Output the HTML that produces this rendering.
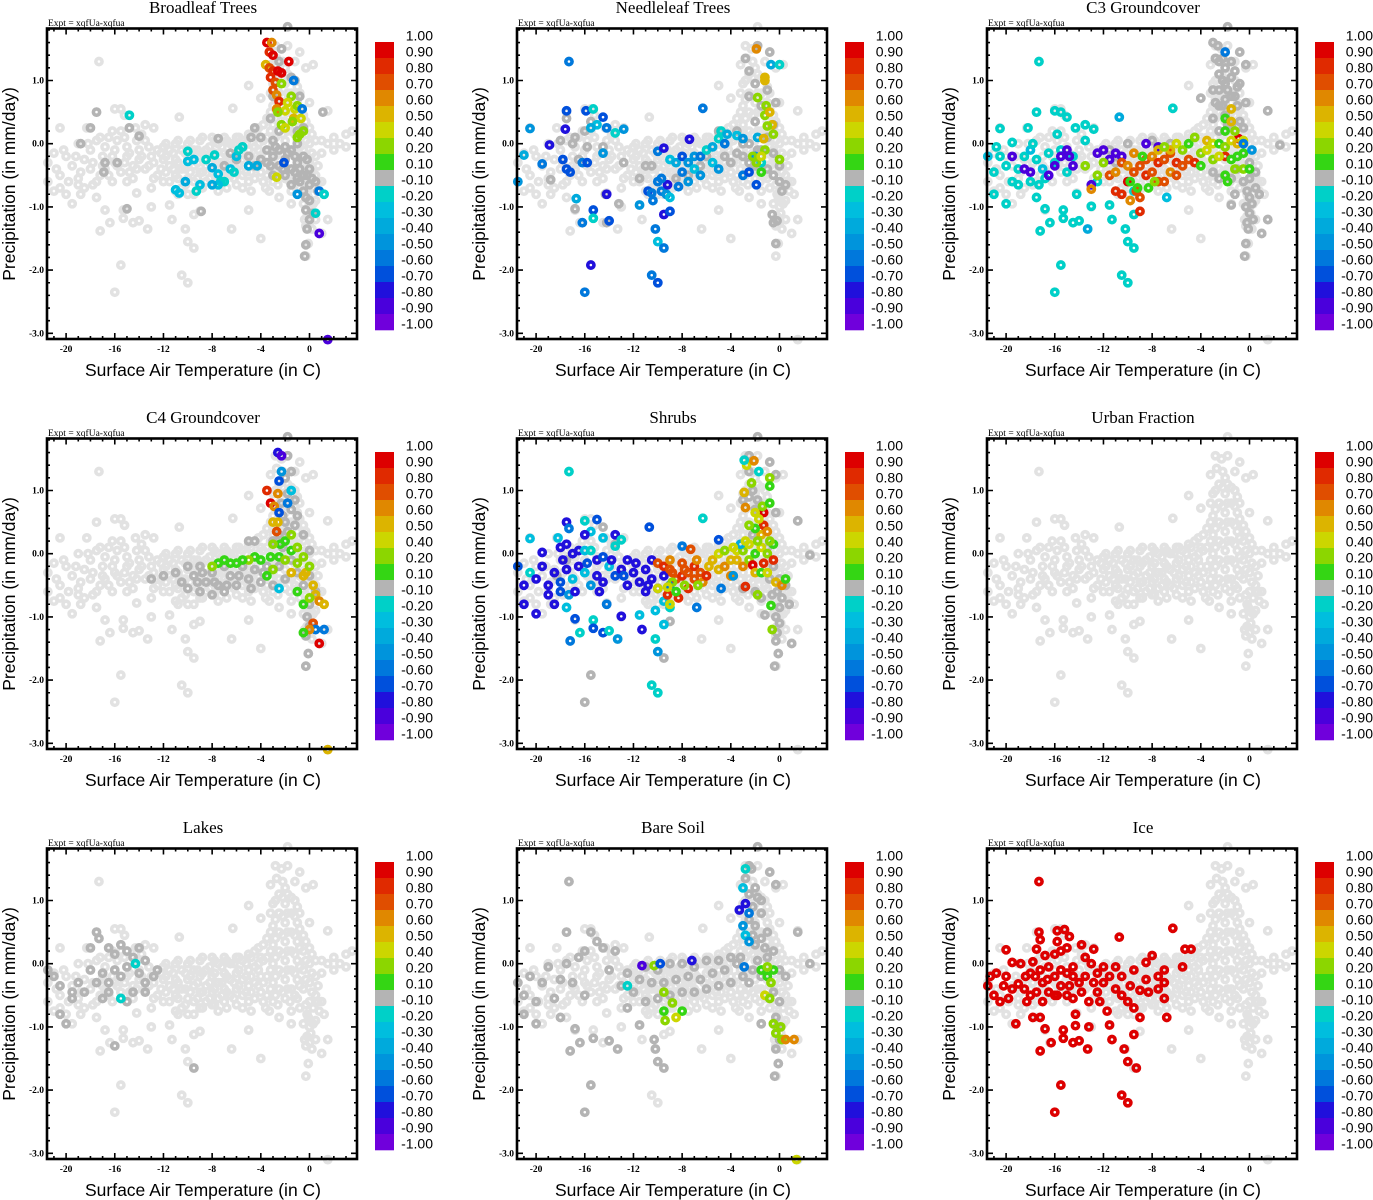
<!DOCTYPE html>
<html><head><meta charset="utf-8"><style>
html,body{margin:0;padding:0;background:#fff;}
svg{display:block;}
</style></head><body>
<svg id="fig" width="1373" height="1200" viewBox="0 0 1373 1200" xmlns="http://www.w3.org/2000/svg"></svg>
<script>
const panelTitles = ["Broadleaf Trees","Needleleaf Trees","C3 Groundcover","C4 Groundcover","Shrubs","Urban Fraction","Lakes","Bare Soil","Ice"];
const xTickValues = [-20,-16,-12,-8,-4,0];
const xTickLabels = ["-20","-16","-12","-8","-4","0"];
const yTickValues = [1,0,-1,-2,-3];
const yTickLabels = ["1.0","0.0","-1.0","-2.0","-3.0"];
const cbLevels = [1,0.9,0.8,0.7,0.6,0.5,0.4,0.2,0.1,-0.1,-0.2,-0.3,-0.4,-0.5,-0.6,-0.7,-0.8,-0.9,-1.0];
const cbLabels = ["1.00","0.90","0.80","0.70","0.60","0.50","0.40","0.20","0.10","-0.10","-0.20","-0.30","-0.40","-0.50","-0.60","-0.70","-0.80","-0.90","-1.00"];
const cbColors = ["#dd0000","#e02a00","#e04e00","#e08800","#dcb400","#ccd600","#8cd600","#34d614","#b4b4b4","#00d0c8","#00bede","#00aadc","#0094dc","#0078dc","#0050dc","#2010dc","#4a00dc","#7000dc"];

// shared background cloud [T, P]
const cloudPoints = [[-21.5,-0.3],[-21,-0.15],[-20.5,-0.5],[-20,-0.2],[-19.5,-0.35],[-19,0.0],[-19,-0.55],[-18.5,-0.25],[-18,-0.1],[-18,-0.4],[-17.5,0.05],[-17.5,-0.6],[-17,-0.2],[-17,-0.35],[-16.5,0.1],[-16.5,-0.5],[-16,-0.1],[-16,-0.3],[-15.5,0.2],[-15.5,-0.45],[-15,-0.2],[-15,-0.05],[-14.5,-0.35],[-14.5,-0.55],[-14,-0.1],[-14,-0.25],[-13.5,0.05],[-13.5,-0.4],[-13,-0.2],[-12.5,-0.1],[-12.5,-0.5],[-12,-0.25],[-12,-0.05],
[-20.5,0.25],[-19.5,-0.95],[-20,-0.8],[-17.3,1.3],[-17.5,0.5],[-16,0.55],[-15.5,0.55],[-15.2,0.45],[-14.3,0.25],[-13.5,0.3],[-12.8,0.25],[-18.3,0.25],[-17.5,-0.85],[-16.8,-1.05],[-16.4,-1.25],[-17.2,-1.38],[-15.3,-1.05],[-15.3,-1.18],[-14.5,-1.25],[-14,-1.22],[-13.3,-1.35],[-13,-1.0],[-11.5,-0.97],[-11.3,-1.2],[-10.2,-1.35],[-10,-1.55],[-9.5,-1.65],[-10.5,-2.08],[-10,-2.2],[-15.5,-1.92],[-16,-2.35],[-9,-1.07],[-9.5,-1.12],[-21.5,-0.6],[-21,-0.75],[-19,-0.65],[-18.5,-0.7],[-14.2,-0.78],[-13,-0.7],[-10.7,0.42],[-6.3,0.56],[-6.4,-1.35],[-4,-1.5],[-5,-1.05],[-5,0.92],[-4,0.72],
[-11.5,-0.1],[-11.5,-0.35],[-11.5,-0.6],[-11,0.0],[-11,-0.25],[-11,-0.5],[-11,-0.75],[-10.5,-0.1],[-10.5,-0.4],[-10.5,-0.7],[-10,0.0],[-10,-0.25],[-10,-0.55],[-10,-0.8],[-9.5,-0.1],[-9.5,-0.35],[-9.5,-0.6],[-9,0.05],[-9,-0.2],[-9,-0.45],[-9,-0.7],[-8.5,-0.1],[-8.5,-0.35],[-8.5,-0.6],[-8,0.1],[-8,-0.2],[-8,-0.45],[-8,-0.65],[-7.5,0.0],[-7.5,-0.3],[-7.5,-0.55],[-7,0.1],[-7,-0.15],[-7,-0.4],[-7,-0.6],[-6.5,0.0],[-6.5,-0.25],[-6.5,-0.5],[-6,0.1],[-6,-0.15],[-6,-0.4],[-6,-0.65],[-5.5,0.05],[-5.5,-0.25],[-5.5,-0.5],[-5,0.15],[-5,-0.1],[-5,-0.35],[-5,-0.6],[-4.5,0.2],[-4.5,-0.05],[-4.5,-0.3],[-4.5,-0.55],[-4,0.1],[-4,-0.2],[-4,-0.45],
[-3.5,-0.5],[-3.5,-0.2],[-3.5,0.1],[-3.5,0.4],[-3.2,0.8],[-3.2,1.25],[-3,-0.6],[-3,-0.3],[-3,0.0],[-3,0.3],[-3,0.6],[-3,0.95],[-2.8,1.55],[-2.7,1.35],[-2.5,-0.4],[-2.5,-0.1],[-2.5,0.2],[-2.5,0.5],[-2.5,0.8],[-2.5,1.1],[-2.3,1.5],[-2,-0.55],[-2,-0.25],[-2,0.05],[-2,0.35],[-2,0.65],[-2,0.95],[-2,1.2],[-1.8,1.55],[-1.5,-0.4],[-1.5,-0.1],[-1.5,0.2],[-1.5,0.5],[-1.5,0.8],[-1.5,1.05],[-1.2,1.3],[-1,-0.55],[-1,-0.25],[-1,0.05],[-1,0.35],[-1,0.65],[-1,0.9],[-0.8,1.45],[-0.5,-0.4],[-0.5,-0.1],[-0.5,0.2],[-0.5,0.45],[-0.3,1.2],[0,-0.6],[0,-0.3],[0,0.0],[0,0.25],[0,0.65],[0.3,1.25],[0.5,-0.5],[0.5,-0.2],[0.5,0.05],
[-0.2,-0.8],[0,-1.0],[-0.2,-1.15],[0,-1.25],[-0.3,-1.3],[0.2,-1.35],[-0.1,-1.58],[-0.3,-1.78],[0.5,-0.9],[0.8,-0.75],[1,-0.6],[1.2,-0.8],[1.5,-1.2],[1,-1.42],[0.5,-1.2],
[1,0.05],[1.5,0.0],[2,0.1],[2.5,0.0],[3,0.15],[3.5,0.2],[1.5,0.52],[2,-0.1],[3,-0.05],[1,-0.15],[-1.8,1.85],[-4.2,-0.35],[-3.8,-0.6],[-4.8,-0.75],[-3.3,-0.75],[-2.5,-0.85],[-1.5,-0.75],[-1.5,-0.95],[1.5,-3.1]];
// additional densely packed cloud points [T, P]
const cloudFill = [[-20.8,-0.4],[-20.2,-0.1],[-19.8,-0.6],[-19.2,-0.2],[-18.8,-0.45],[-18.2,0.0],[-17.8,-0.3],[-17.2,0.1],[-17.2,-0.5],[-16.8,-0.05],[-16.8,-0.4],[-16.2,0.2],[-16.2,-0.2],[-15.8,-0.35],[-15.8,0.05],[-15.2,-0.3],[-15.2,0.1],[-14.8,-0.15],[-14.8,-0.45],[-14.2,0.05],[-14.2,-0.4],[-13.8,-0.2],[-13.8,0.15],[-13.2,-0.05],[-13.2,-0.35],[-12.8,-0.3],[-12.2,-0.15],[-12.2,-0.4],[-11.8,0.0],[-11.8,-0.2],[-11.8,-0.45],[-11.2,-0.15],[-11.2,-0.4],[-10.8,0.05],[-10.8,-0.3],[-10.8,-0.55],[-10.2,-0.15],[-10.2,-0.4],[-10.2,-0.65],[-9.8,0.05],[-9.8,-0.2],[-9.8,-0.45],[-9.2,-0.1],[-9.2,-0.3],[-9.2,-0.55],[-8.8,0.1],[-8.8,-0.15],[-8.8,-0.45],[-8.8,-0.7],[-8.2,-0.05],[-8.2,-0.3],[-8.2,-0.55],[-7.8,0.05],[-7.8,-0.15],[-7.8,-0.4],[-7.8,-0.65],[-7.2,-0.05],[-7.2,-0.3],[-7.2,-0.5],[-6.8,0.05],[-6.8,-0.2],[-6.8,-0.45],[-6.2,0.0],[-6.2,-0.3],[-6.2,-0.55],[-5.8,0.1],[-5.8,-0.1],[-5.8,-0.35],[-5.2,0.0],[-5.2,-0.2],[-5.2,-0.45],[-4.8,0.1],[-4.8,-0.2],[-4.8,-0.45],[-4.2,0.0],[-4.2,0.25],[-4.2,-0.1],[-3.8,0.05],[-3.8,-0.3],[-3.8,0.3],[-3.2,-0.4],[-3.2,-0.1],[-3.2,0.2],[-3.2,0.5],[-2.8,-0.5],[-2.8,-0.2],[-2.8,0.1],[-2.8,0.4],[-2.8,0.7],[-2.8,1.0],[-2.2,-0.45],[-2.2,-0.15],[-2.2,0.15],[-2.2,0.45],[-2.2,0.75],[-2.2,1.05],[-2.2,1.3],[-1.8,-0.4],[-1.8,-0.1],[-1.8,0.2],[-1.8,0.5],[-1.8,0.8],[-1.8,1.1],[-1.2,-0.5],[-1.2,-0.15],[-1.2,0.15],[-1.2,0.45],[-1.2,0.75],[-1.2,1.0],[-0.8,-0.7],[-0.8,-0.35],[-0.8,-0.05],[-0.8,0.25],[-0.8,0.55],[-0.8,0.8],[-0.3,-0.65],[-0.3,-0.25],[-0.3,0.05],[-0.3,0.35],[0.2,-0.45],[0.2,-0.15],[0.2,0.15],[0.3,-0.7],[0.7,-0.35],[0.7,-0.6],[0.3,-0.95],[-0.5,-0.95],[-0.1,-0.85],[0.1,-1.1],[-0.4,-1.2],[-2.6,-0.65],[-1.6,-0.6],[-3.6,-0.7],[-5.5,-0.7],[-6.8,-0.7],[-7.5,-0.75],[-9.5,-0.8],[-10.8,-0.8],[-12,-0.6],[-12.8,-0.55],[-15,-0.6],[-16.2,-0.6],[-17.8,-0.65],[-18.8,-0.8],[-20.5,-0.7]];

// per-panel dark-gray points [T, P]
const grayBroadleaf = [[-17.5,0.5],[-18,0.25],[-14.8,0.25],[-14,0.12],[-18.8,0],[-16.8,-0.3],[-15.8,-0.3],[-16.9,-0.45],[-15,-1.03],[-8.9,-1.07],[-7.5,0.08],[-4.5,0.25],[-4,0.1],[-5,-0.2],[-4.5,-0.35],[-4,-0.25],[-3.5,-0.1],[-3.5,-0.3],[-3,-0.2],[-3,-0.5],[-3,0.05],[-2.5,-0.1],[-2.5,-0.35],[-2.5,0.2],[-2,-0.25],[-2,-0.5],[-2,-0.05],[-1.5,-0.1],[-1.5,-0.4],[-1.5,-0.65],[-1,-0.3],[-1,-0.55],[-1,0.0],[-0.5,-0.2],[-0.5,-0.5],[-0.5,-0.75],[0,-0.4],[0,-0.65],[0,-0.9],[-0.3,-1.05],[0,-1.2],[-0.2,-1.35],[-0.3,-1.6],[-0.4,-1.78],[0.5,-0.6],[0.7,-0.75],[0.3,-1.1],[1.1,0.5],[-2.5,1.3],[-2.3,1.5],[-1.8,1.85],[-1.2,1.0],[-1.5,1.05],[-0.8,0.75],[-3.2,0.4],[-3,0.75],[-4.8,0.1],[-5.5,-0.05],[-6,-0.25],[-7,-0.35],[-6.5,-0.15],[-0.5,0.25],[-1,0.2],[-3.2,-0.35],[-2.8,-0.05],[-2.2,-0.4],[-1.8,-0.15],[-1.2,-0.2],[-0.8,-0.4],[-0.2,-0.5],[-0.2,-0.25],[0.2,-0.55],[-1.2,-0.45],[-0.8,-0.6],[-0.3,-0.85]];
const grayNeedleleaf = [[-17.5,0.4],[-16.8,0.1],[-17,0.0],[-18,0.05],[-15.5,0.35],[-16,0.2],[-15.8,-0.05],[-16.5,-0.25],[-14.5,-0.05],[-14.3,-0.8],[-13.2,-0.95],[-14.2,-1.25],[-16.8,-1.03],[-18.8,-0.57],[-12.8,-0.3],[-11.5,-0.55],[-11,-0.35],[-10.5,-0.35],[-8.5,-0.55],[-7.5,-0.5],[-6.5,-0.35],[-6,-0.2],[-5,0.2],[-4.5,-0.2],[-4,-0.3],[-3.5,-0.15],[-3,-0.2],[-3,0.0],[-2.5,-0.3],[-2.5,0.0],[-2.5,0.75],[-2.8,1.35],[-2.5,1.15],[-1.8,1.55],[-0.8,1.45],[-2,0.95],[-1.5,0.6],[-2,0.35],[-1,0.85],[-0.3,0.65],[-0.5,0.3],[-1,0.1],[-1.5,-0.1],[-0.5,-0.15],[0,-0.35],[0,-0.6],[-0.5,-0.5],[0.5,-0.65],[0.2,-0.75],[-0.6,-1.12],[-0.5,-1.25],[-0.2,-1.22],[-0.3,-1.58],[-2,-0.35],[-1,-0.4],[-1.8,-0.1],[-3.5,0.2]];
const grayC3 = [[-3,1.6],[-2.6,1.55],[-2.5,1.3],[-2.8,1.35],[-2,1.2],[-1.5,1.3],[-0.8,1.45],[-0.3,1.25],[-2.5,1.1],[-2.5,0.85],[-3,0.85],[-2,0.95],[-1.5,1.05],[-1,0.9],[-4,0.72],[-2.5,0.6],[-2,0.7],[-1.5,0.75],[-2,0.45],[-1,0.6],[-0.3,0.65],[-1.5,0.3],[-0.5,0.25],[-3,0.4],[-2.5,0.2],[-1.8,1.85],[1.5,0.52],[2.5,-0.02],[0,-0.3],[0,-0.55],[-0.5,-0.6],[0.5,-0.7],[0,-0.85],[-0.3,-1.0],[0,-1.1],[-0.2,-1.25],[0.3,-1.2],[-0.1,-1.35],[-0.3,-1.58],[-0.4,-1.78],[0.8,-0.8],[1.5,-1.2],[1,-1.42],[0.5,-0.45],[-1.2,-0.8],[-1.5,-0.55],[-1,-0.4],[-2,-0.5],[-2.5,-0.55],[-3,-0.45],[-6.5,0.0],[-8,0.05],[-10,0.0],[-11.5,-0.1],[-11,-0.3],[-1.5,-0.97],[-2.2,1.0],[-1.8,0.85],[-2.2,0.6],[-1.2,0.75],[-0.8,0.95],[-2.8,0.65],[-1.8,0.3],[-0.8,0.35],[-2.2,1.35],[-1.2,1.15],[-0.2,-0.75],[0.2,-0.95]];
const grayC4 = [[-11,-0.3],[-10.5,-0.45],[-10,-0.2],[-10,-0.55],[-9.5,-0.35],[-9,-0.6],[-9,-0.2],[-8.5,-0.45],[-8,-0.3],[-8,-0.65],[-7.5,-0.5],[-7,-0.2],[-7,-0.6],[-6.5,-0.35],[-6,-0.5],[-5.5,-0.2],[-5,-0.4],[-4.5,-0.25],[-4,-0.45],[-3.5,-0.2],[-5,0.2],[-4.5,0.2],[-3,-0.5],[-2.5,-0.2],[-2,-0.4],[-1.5,-0.1],[-1,-0.3],[-0.5,-0.5],[0,-0.35],[-2.5,0.3],[-2,0.5],[-2.3,0.8],[-1.8,0.95],[-1.5,0.7],[-2,1.2],[-1.5,1.3],[-1.8,1.55],[-1.8,1.85],[-1,0.6],[-0.5,0.3],[0,0.05],[-3,0.2],[0.5,-0.6],[0,-0.8],[-0.2,-1.0],[0,-1.15],[-0.3,-1.3],[-0.1,-1.58],[-0.3,-1.78],[-13,-0.4],[-12,-0.35],[-9.2,-0.45],[-8.8,-0.3],[-7.8,-0.45],[-6.8,-0.5],[-5.8,-0.35],[-4.8,-0.55],[-3.8,-0.3],[-2.2,0.1],[-2.2,0.6],[-1.8,0.35],[-1.2,0.45],[-1.2,0.85]];
const grayShrubs = [[-15.5,-1.92],[-16,-2.35],[-9.5,-1.65],[-9,-1.07],[-14.2,-0.8],[-18.3,-0.35],[-17.5,-0.1],[-16,-0.3],[-14.5,0.42],[-13.5,0.15],[-2.5,1.55],[-2.5,1.3],[-1.8,1.85],[-3,0.85],[-2.5,0.9],[-2,0.7],[-0.8,1.45],[-0.3,1.25],[-0.3,0.65],[1.5,0.52],[2.5,-0.02],[-1,0.1],[-0.5,-0.2],[0,-0.4],[0.5,-0.5],[0.8,-0.8],[0,-0.85],[-0.3,-1.0],[0,-1.1],[-0.2,-1.25],[-0.3,-1.38],[-0.1,-1.58],[-0.4,-1.78],[1,-1.42],[-2,-0.6],[-1.5,-0.7],[-1.2,-0.97],[-3,-0.55],[-0.8,-0.4],[-2.2,1.0],[-1.8,0.85],[-2.2,0.3],[-0.2,-0.6],[0.2,-0.7],[-0.6,-0.65]];
const grayUrban = [];
const grayLakes = [[-17.5,0.5],[-17.3,0.4],[-18,0.25],[-16.5,0.25],[-16,0.15],[-15.5,0.3],[-15,0.2],[-14.5,0.1],[-14,0.25],[-13.5,0.05],[-12.8,-0.2],[-13.5,-0.3],[-14,-0.15],[-15,-0.05],[-15.5,-0.2],[-16,-0.1],[-16.5,-0.3],[-17,-0.15],[-17.5,-0.3],[-18,-0.1],[-18.5,-0.45],[-19,-0.3],[-19.5,-0.45],[-20.5,-0.35],[-21,-0.2],[-21.5,-0.1],[-20.5,-0.8],[-20,-0.95],[-19.5,-0.55],[-15.5,-0.55],[-14.5,-0.45],[-17,-0.55],[-15,-0.6],[-16,-1.3],[-12.5,-0.1],[-13.5,-0.45],[-16.5,-0.45],[-9.5,-1.65]];
const grayBareSoil = [[-21.5,-0.3],[-21,-0.5],[-20.5,-0.2],[-20,-0.6],[-19.5,-0.3],[-19,-0.05],[-18.5,-0.55],[-18,-0.25],[-17.5,0.0],[-17.3,1.3],[-17.5,0.5],[-17,-0.3],[-16.5,0.1],[-16,0.2],[-16,-0.5],[-15.5,0.5],[-15,0.35],[-14.5,0.25],[-14,-0.1],[-13.5,0.2],[-13,-0.35],[-12.5,-0.15],[-12,-0.45],[-11.5,-0.25],[-11,-0.05],[-11,-0.6],[-10.5,-0.3],[-10,-0.1],[-10,-0.55],[-9.5,-0.3],[-9,-0.5],[-9,0.0],[-8.5,-0.25],[-8,0.0],[-8,-0.45],[-7.5,-0.2],[-7,-0.05],[-7,-0.45],[-6.5,-0.25],[-6,0.05],[-6,-0.4],[-5.5,-0.15],[-5,0.05],[-5,-0.35],[-4.5,-0.1],[-4,0.1],[-4,-0.3],[-3.5,0.0],[-3,-0.2],[-2.5,1.55],[-2.8,1.35],[-2.3,1.5],[-1.8,1.85],[-2,1.2],[-2.5,1.1],[-2.2,0.9],[-2.5,0.7],[-2,0.6],[-1.5,0.8],[-1.5,0.4],[-2,0.3],[-1,0.5],[-0.8,1.45],[-0.3,1.25],[-1.5,1.0],[-1,0.1],[-0.5,0.2],[0,-0.1],[0.5,-0.2],[1.5,0.5],[2.5,0.0],[-2.5,-0.3],[-1.5,-0.2],[-0.5,-0.45],[0,-0.6],[-0.3,-0.85],[-0.2,-1.0],[0,-1.2],[-0.3,-1.35],[-0.1,-1.58],[-0.4,-1.78],[-16.4,-1.25],[-17.2,-1.38],[-16.8,-1.03],[-15.3,-1.18],[-14,-1.22],[-13.3,-1.35],[-11.5,-0.97],[-10.2,-1.35],[-10,-1.55],[-9.5,-1.65],[-15.5,-1.92],[-16,-2.35],[-10.3,-1.2],[-12.5,-0.7],[-18,-0.85],[-21,-0.8],[-20,-0.95],[-1.5,-0.95],[-1.8,1.05],[-2.2,0.45],[-1.2,0.25],[-1.8,0.05],[-2.2,-0.1],[-3.2,0.1]];
const grayIce = [];

// per-panel coloured points [T, P, value]
const colBroadleaf = [[-3.5,1.6,0.9],[-3.1,1.6,0.6],[-3.3,1.45,0.8],[-3,1.4,0.9],[-3.6,1.25,0.5],[-3.3,1.2,0.7],[-3,1.15,0.8],[-2.6,1.15,0.9],[-2.3,1.12,0.9],[-1.7,1.3,0.9],[-3.2,1.05,0.8],[-2.8,0.97,0.7],[-3,0.85,0.7],[-2.7,0.77,0.6],[-2.5,0.67,0.8],[-2.7,0.55,0.6],[-2.3,0.95,0.2],[-1.5,0.75,0.2],[-1.8,0.65,0.4],[-2,0.52,0.4],[-1.2,0.55,0.4],[-1,0.6,0.3],[-2.6,0.5,0.2],[-1.3,0.4,0.5],[-0.7,0.4,0.4],[-2.3,0.3,0.3],[-2,0.25,0.4],[-1.4,0.35,0.2],[-0.5,0.2,0.2],[-1,0.1,0.3],[-2.7,-0.53,0.4],[-10,-0.12,-0.2],[-10,-0.28,-0.3],[-9.5,-0.25,-0.3],[-8.5,-0.25,-0.2],[-8,-0.38,-0.4],[-7.5,-0.48,-0.3],[-7.3,-0.6,-0.2],[-7,-0.6,-0.2],[-7.5,-0.65,-0.3],[-8,-0.65,-0.4],[-9,-0.65,-0.3],[-9.3,-0.75,-0.2],[-10.2,-0.6,-0.4],[-10.7,-0.78,-0.3],[-11,-0.73,-0.3],[-6.5,-0.4,-0.3],[-6,-0.2,-0.3],[-5.8,-0.1,-0.2],[-5.5,-0.05,-0.2],[-6.2,-0.45,-0.2],[-7.8,-0.18,-0.2],[-14.8,0.45,-0.2],[-5,-0.35,-0.4],[-4.3,-0.35,-0.4],[-1.3,1.0,-0.6],[-2.1,-0.3,-0.7],[-1,-0.8,-0.5],[0.8,-0.75,-0.6],[1.2,-0.8,-0.2],[0.5,-1.1,-0.2],[0.8,-1.42,-0.9],[1.5,-3.1,-0.9],[-0.8,0.15,0.2],[-0.6,0.55,-0.6]];
const colNeedleleaf = [[-17.3,1.3,-0.6],[-17.5,0.52,-0.7],[-15.9,0.52,-0.7],[-15.3,0.55,-0.2],[-15,0.3,-0.3],[-14.5,0.42,-0.7],[-14.2,0.25,-0.6],[-12.8,0.23,-0.5],[-13.5,0.17,-0.2],[-15.5,0.25,-0.4],[-17.6,0.23,-0.8],[-18.9,-0.02,-0.8],[-20.5,0.24,-0.5],[-21,-0.18,-0.4],[-19.5,-0.32,-0.6],[-17.8,-0.25,-0.7],[-17.5,-0.4,-0.7],[-17.2,-0.45,-0.7],[-16.2,-0.3,-0.6],[-15.8,-0.3,-0.7],[-14.5,-0.15,-0.5],[-21.5,-0.6,-0.5],[-16.7,-0.87,-0.4],[-14.2,-0.8,-0.8],[-15.3,-1.05,-0.7],[-15.3,-1.18,-0.2],[-16.2,-1.25,-0.6],[-14,-1.22,-0.7],[-15.5,-1.92,-0.8],[-16,-2.35,-0.6],[-11.5,-0.97,-0.5],[-10.5,-2.08,-0.6],[-10,-2.2,-0.7],[-10.2,-1.35,-0.6],[-10,-1.55,-0.3],[-9.5,-1.65,-0.6],[-9.5,-1.12,-0.8],[-9,-1.07,-0.7],[-10.4,-0.9,-0.6],[-10.8,-0.75,-0.7],[-10.5,-0.78,-0.6],[-9.7,-0.75,-0.6],[-9.3,-0.8,-0.5],[-9,-0.85,-0.3],[-9.2,-0.65,-0.8],[-10,-0.6,-0.6],[-9.7,-0.55,-0.6],[-10,-0.12,-0.6],[-9.5,-0.07,-0.8],[-9,-0.25,-0.3],[-8.5,-0.3,-0.4],[-8,-0.2,-0.7],[-7.5,-0.3,-0.5],[-7.4,0.07,-0.8],[-7,-0.2,-0.5],[-8,-0.45,-0.6],[-8.3,-0.68,-0.6],[-7.5,-0.6,-0.5],[-7,-0.4,-0.3],[-6.5,-0.5,-0.5],[-6.5,-0.2,-0.6],[-6,-0.1,-0.2],[-5.5,-0.05,-0.4],[-5,0.08,-0.2],[-4.5,0.0,-0.6],[-4.8,0.2,-0.2],[-4.3,0.15,-0.4],[-5.5,-0.3,-0.3],[-5,-0.4,-0.5],[-3.5,0.13,-0.3],[-3,0.08,-0.5],[-3,-0.5,-0.6],[-2.5,-0.45,-0.7],[-2,-0.2,-0.5],[-1.8,0.1,-0.4],[-1.5,-0.3,-0.2],[-6.3,0.56,-0.6],[-1.9,1.5,0.6],[-0.7,1.25,-0.4],[0,1.25,-0.2],[-1.2,1.05,0.5],[-1.2,1.0,0.5],[-1.8,0.73,0.3],[-1.1,0.6,0.3],[-1.2,0.45,0.2],[-0.8,0.5,0.5],[-0.6,0.3,0.5],[-1,0.28,0.3],[-0.5,0.15,0.3],[-1.3,0.08,0.5],[-1.2,-0.1,0.3],[-2.2,-0.2,0.2],[-1.9,-0.3,0.3],[-1.5,-0.2,0.4],[0,-0.25,0.3],[-1.5,-0.45,0.1],[-1.9,-0.65,-0.7]];
const colC3 = [[-17.3,1.3,-0.2],[-17.5,0.5,-0.2],[-16,0.52,-0.2],[-15.5,0.5,-0.2],[-15,0.42,-0.2],[-14.3,0.25,-0.2],[-13.5,0.3,-0.2],[-12.8,0.23,-0.2],[-13.5,0.05,-0.2],[-18.2,0.25,-0.2],[-20.5,0.24,-0.2],[-19.5,0.02,-0.2],[-21.5,-0.2,-0.3],[-21,-0.45,-0.2],[-20.5,-0.2,-0.2],[-20,-0.35,-0.2],[-19,-0.4,-0.2],[-18.5,-0.2,-0.2],[-18,-0.1,-0.3],[-17.5,-0.25,-0.2],[-17,-0.4,-0.3],[-16.5,-0.15,-0.2],[-16,-0.3,-0.2],[-15.5,-0.1,-0.2],[-15,-0.45,-0.2],[-14.5,-0.2,-0.2],[-18,-0.6,-0.2],[-17.3,-0.65,-0.2],[-21,-0.8,-0.2],[-20,-0.95,-0.2],[-19,-0.65,-0.2],[-17.5,-0.85,-0.2],[-17.2,-1.38,-0.2],[-16.8,-1.03,-0.2],[-16.4,-1.25,-0.2],[-15.3,-1.05,-0.2],[-15.3,-1.18,-0.2],[-14.5,-1.25,-0.2],[-14,-1.22,-0.2],[-13.3,-1.35,-0.4],[-14.2,-0.8,-0.2],[-13,-0.99,-0.2],[-11.5,-0.97,-0.2],[-11.3,-1.2,-0.2],[-10.2,-1.35,-0.2],[-10,-1.55,-0.2],[-9.5,-1.65,-0.2],[-10.5,-2.08,-0.2],[-10,-2.2,-0.2],[-15.5,-1.92,-0.2],[-16,-2.35,-0.2],[-9.5,-1.12,-0.2],[-10.7,0.42,-0.4],[-6.3,0.56,-0.2],[-6.8,-0.85,-0.3],[-12.5,-0.6,-0.2],[-9.5,-0.75,-0.2],[-17.8,0.0,-0.2],[-16.8,-0.55,-0.2],[-15.8,0.15,-0.2],[-19.5,-0.6,-0.2],[-20.8,-0.05,-0.2],
[-19.5,-0.2,-0.9],[-18.5,-0.4,-0.9],[-18,-0.45,-0.9],[-16.5,-0.5,-0.9],[-16,-0.35,-0.9],[-15.5,-0.2,-0.9],[-15,-0.1,-0.9],[-14.5,-0.35,-0.9],[-14.8,-0.2,-0.9],[-12.5,-0.15,-0.9],[-12,-0.1,-0.9],[-11.5,-0.25,-0.9],[-11,-0.15,-0.9],[-10.5,-0.2,-0.9],[-8.5,0.0,-0.9],[-7.5,-0.05,-0.9],[-13,-0.65,-0.9],
[-11.5,-0.5,0.7],[-11,-0.45,0.6],[-11,-0.75,0.8],[-10.5,-0.8,0.8],[-10.5,-0.3,0.7],[-10,-0.35,0.6],[-10,-0.6,0.9],[-9.8,-0.9,0.6],[-9.5,-0.45,0.7],[-9.3,-0.75,0.7],[-9,-0.85,0.7],[-9,-1.07,0.8],[-9,-0.35,0.7],[-8.5,-0.5,0.8],[-8.5,-0.25,0.7],[-8,-0.45,0.7],[-8,-0.2,0.6],[-7.5,-0.6,0.7],[-7.5,-0.3,0.8],[-7,-0.6,0.7],[-7,-0.25,0.7],[-6.5,-0.45,0.6],[-6.5,-0.15,0.7],[-6,-0.3,0.8],[-6,-0.5,0.7],[-5.5,-0.35,0.7],[-5,-0.25,0.7],[-4.5,-0.3,0.8],[-13,-0.72,0.6],[-2,-0.2,0.8],[-0.9,0.08,0.9],[-9.5,-0.15,0.6],[-7.5,-0.1,0.5],[-6.5,-0.1,0.5],
[-12,-0.3,0.2],[-12.5,-0.5,0.3],[-13.5,-0.35,0.3],[-9.8,-0.6,0.1],[-9.2,-0.7,0.1],[-8.3,-0.7,0.1],[-7.8,-0.6,0.3],[-8.8,-0.2,0.1],[-7,-0.05,0.2],[-6,0.0,0.4],[-5.5,-0.1,0.3],[-5,0.0,0.1],[-4.5,0.1,0.3],[-4,-0.15,0.2],[-4,-0.35,0.1],[-3.5,-0.1,0.4],[-3.5,0.05,0.5],[-3,0.0,0.4],[-3,-0.25,0.2],[-2.5,0.0,0.1],[-2.5,-0.2,0.4],[-2,0.2,0.1],[-2,-0.05,0.3],[-1.5,0.05,0.4],[-1.5,-0.25,0.1],[-1.2,-0.4,0.2],[-1,0.0,0.5],[-1,-0.2,0.1],[-0.5,-0.15,0.1],[-0.5,-0.4,0.2],[0,-0.4,0.1],[-2,-0.5,0.1],[-1.8,-0.6,0.1],[-2,0.4,0.1],[-1.5,0.35,0.5],[-1.5,0.55,0.5],[-1.2,0.2,0.2],[-0.5,0.05,0.4],[-2,1.45,-0.6],[-0.5,0.0,-0.6],[0.2,-0.1,-0.5]];
const colC4 = [[-2.6,1.6,-0.8],[-2.3,1.55,-0.9],[-2.3,1.3,-0.5],[-2.5,1.15,-0.7],[-2.6,0.95,0.6],[-3.5,1.0,0.8],[-3.2,0.8,0.9],[-2.9,0.75,0.6],[-2.5,0.65,-0.7],[-2.6,0.5,0.5],[-3,0.5,0.5],[-2.7,0.35,0.7],[-1.8,0.8,-0.6],[-1.5,1.0,-0.3],[-2.4,0.15,0.1],[-3,0.15,0.2],[-2,0.2,0.1],[-1.5,0.3,0.2],[-3.2,-0.05,0.1],[-3,-0.25,0.2],[-2.5,-0.05,0.1],[-2,-0.1,0.2],[-1.5,0.05,0.1],[-1,0.1,0.2],[-1,-0.15,0.3],[-0.5,-0.05,0.2],[-0.3,-0.3,0.5],[0,-0.2,0.3],[-1.5,-0.3,0.5],[-4,-0.1,0.1],[-4.5,-0.05,0.1],[-5,-0.1,0.2],[-5.5,-0.1,0.1],[-6,-0.15,0.1],[-6.5,-0.15,0.1],[-7,-0.1,0.1],[-7.5,-0.15,0.1],[-8,-0.2,0.2],[-3.5,-0.35,0.1],[-0.5,-0.35,0.5],[0.3,-0.5,0.5],[0.5,-0.65,0.5],[0.8,-0.75,0.6],[1.2,-0.8,0.5],[-0.5,-0.8,0.1],[0,-0.7,0.3],[0.3,-1.1,0.7],[0.5,-1.2,-0.6],[0.8,-1.42,0.9],[1.2,-1.2,-0.6],[0,-1.2,0.6],[-0.5,-1.25,0.1],[1.5,-3.1,0.5],[-1,-0.6,0.1],[-2.5,-0.55,-0.3]];
const colShrubs = [[-17.3,1.3,-0.2],[-17.5,0.5,-0.8],[-17.3,0.4,-0.6],[-16,0.52,-0.2],[-15,0.54,-0.7],[-15.5,0.35,-0.3],[-16,0.3,-0.8],[-14.5,0.25,-0.3],[-13.5,0.3,-0.8],[-13,0.22,-0.2],[-13.5,0.12,-0.2],[-18.2,0.25,-0.3],[-20.5,0.24,-0.3],[-19.5,0.02,-0.8],[-18,0.1,-0.8],[-17.5,0.15,-0.8],[-17,0.0,-0.8],[-16.5,0.05,-0.8],[-16,0.05,-0.3],[-15.5,0.05,-0.2],[-15,-0.1,-0.8],[-14.5,-0.05,-0.7],[-21.5,-0.2,-0.7],[-21,-0.5,-0.8],[-20.5,-0.3,-0.2],[-20,-0.4,-0.8],[-19.5,-0.2,-0.8],[-19,-0.5,-0.8],[-18.5,-0.3,-0.8],[-18,-0.45,-0.7],[-17.5,-0.25,-0.8],[-17,-0.4,-0.3],[-16.5,-0.2,-0.8],[-16,-0.3,-0.3],[-15.5,-0.5,-0.5],[-15,-0.35,-0.8],[-14.5,-0.45,-0.8],[-14,-0.2,-0.3],[-13.5,-0.35,-0.7],[-13,-0.25,-0.8],[-12.5,-0.1,-0.8],[-12.5,-0.5,-0.8],[-12,-0.3,-0.8],[-11.5,-0.45,-0.8],[-11,-0.25,-0.8],[-11,-0.6,-0.8],[-10.5,-0.1,-0.8],[-10.5,-0.4,-0.8],[-10,-0.55,-0.8],[-9.5,-0.35,-0.8],[-9,-0.5,-0.6],[-18,-0.6,-0.7],[-17.3,-0.65,-0.5],[-21,-0.8,-0.8],[-20,-0.95,-0.8],[-19,-0.65,-0.8],[-18.5,-0.8,-0.8],[-17.5,-0.85,-0.3],[-17.2,-1.38,-0.6],[-16.8,-1.03,-0.7],[-16.4,-1.25,-0.2],[-15.3,-1.05,-0.2],[-15.3,-1.18,-0.7],[-14.5,-1.25,-0.7],[-14,-1.22,-0.2],[-13.3,-1.35,-0.5],[-14.2,-0.8,-0.6],[-13,-0.99,-0.8],[-11.5,-0.97,-0.3],[-11.3,-1.2,-0.8],[-10.2,-1.35,-0.2],[-10,-1.55,-0.5],[-10.5,-2.08,-0.2],[-10,-2.2,-0.2],[-9.5,-1.12,-0.3],[-10.7,0.42,-0.7],[-6.3,0.56,-0.2],[-6.8,-0.85,-0.6],[-8,0.12,-0.6],[-9.5,-0.75,-0.3],[-9,-0.85,-0.2],[-10.2,-0.9,-0.3],[-5,0.22,-0.7],[-17.8,-0.1,-0.8],[-16.8,-0.6,-0.8],[-15.8,-0.15,-0.7],[-14.8,-0.6,-0.8],[-13.8,-0.1,-0.8],[-12.8,-0.35,-0.7],[-11.8,-0.15,-0.8],[-10.8,-0.5,-0.8],
[-10,-0.15,0.7],[-9.5,-0.2,0.8],[-9,-0.25,0.7],[-9,-0.1,0.6],[-8.5,-0.4,0.7],[-8,-0.35,0.8],[-8,-0.15,0.7],[-7.5,-0.3,0.7],[-7.5,-0.55,0.8],[-7,-0.4,0.7],[-7,-0.2,0.8],[-6.5,-0.3,0.7],[-6.3,-0.45,0.6],[-6,-0.35,0.8],[-7.3,0.07,0.7],[-8.3,-0.7,0.8],[-9.2,-0.65,0.8],[-10,-0.55,0.4],[-9,-0.8,0.4],[-8.8,-0.45,0.2],[-8.5,-0.6,0.1],[-7.8,-0.5,0.3],[-6.7,-0.5,0.3],[-5.5,-0.1,0.5],[-5,-0.25,0.5],[-5,0.0,0.4],[-4.5,0.05,0.3],[-4.5,-0.2,0.6],[-4,-0.1,0.5],[-4,-0.35,0.6],[-3.5,-0.1,0.5],[-3.5,0.05,0.4],[-3,-0.2,0.6],[-3,0.05,0.3],[-2.5,-0.1,0.2],[-2.5,0.15,0.4],[-2.2,-0.18,0.9],[-2,0.0,0.1],[-2,-0.3,0.5],[-1.5,0.1,0.4],[-1.5,-0.3,0.1],[-1.3,-0.15,0.8],[-1,0.0,0.3],[-1,-0.3,0.4],[-0.5,-0.1,0.8],[-0.5,0.15,0.1],[-0.3,-0.45,0.5],[0.2,-0.5,0.6],[0.5,-0.4,0.1],[-2.8,-0.52,0.8],[-1.5,0.3,0.5],[-1.3,0.45,0.8],[-1.3,0.65,0.9],[-1,0.35,0.6],[-2,0.4,0.1],[-1.7,0.55,0.4],[-2,0.65,0.4],[-2.5,0.45,0.3],[-2.8,0.73,0.6],[-2.9,0.97,0.5],[-2.3,1.12,0.2],[-2.7,1.4,0.4],[-2.1,1.47,0.6],[-0.8,1.2,0.2],[-0.8,1.07,0.1],[-1.4,0.75,0.2],[-0.8,0.8,0.1],[-0.7,-0.82,0.1],[-0.6,-1.2,0.2],[-1.8,-0.65,0.3],[-9.2,-0.53,0.4],[-2.9,1.48,-0.2],[-1.7,1.3,-0.2],[-3.8,-0.35,-0.5],[-4.8,-0.55,-0.6],[-3.2,0.15,-0.4],[-8.8,-0.3,0.7],[-7.8,-0.25,0.7],[-6.8,-0.1,0.6],[-5.8,-0.2,0.5],[-3.8,0.1,0.4],[-2.8,0.2,0.4],[-1.8,0.2,0.3],[-0.8,0.2,0.2]];
const colUrban = [];
const colLakes = [[-15.5,-0.55,-0.2],[-14.3,0.0,-0.2]];
const colBareSoil = [[-2.8,0.95,-0.8],[-3.3,0.85,-0.8],[-2.5,0.8,-0.6],[-3,0.6,-0.5],[-2.8,0.45,-0.3],[-2.5,0.35,-0.5],[-2.8,1.5,-0.2],[-3,1.2,-0.3],[-11.3,-0.03,-0.9],[-10.3,-0.03,0.2],[-9.8,0.0,-0.7],[-1.5,-0.1,0.1],[-1,-0.2,0.1],[-0.7,-0.3,0.2],[-1.2,-0.5,0.4],[-0.8,-0.55,0.3],[-0.5,-0.1,0.1],[-1,-0.05,0.2],[-9.5,-0.45,0.3],[-8.8,-0.62,0.2],[-8,-0.75,0.1],[-8.5,-0.85,0.4],[-9.4,-0.9,0.2],[-9.5,-0.75,0.1],[-0.5,-0.95,0.2],[-0.3,-1.1,0.3],[0.1,-1.0,0.2],[0.2,-1.2,0.3],[0.5,-1.2,0.6],[1.2,-1.2,0.6],[1.4,-3.1,0.4],[-12.5,-0.35,-0.2],[-7.2,0.05,-0.8],[-2.9,-0.05,-0.6]];
const colIce = [[-21.5,-0.35,1],[-21.3,-0.2,1],[-21,-0.5,1],[-20.8,-0.15,1],[-20.5,-0.6,1],[-20.2,-0.35,1],[-20,0.22,1],[-20,-0.2,1],[-19.8,-0.55,1],[-19.5,0.02,1],[-19.5,-0.4,1],[-19.2,-0.95,1],[-19,-0.32,1],[-18.8,0.0,1],[-18.5,-0.4,1],[-18.3,-0.6,1],[-18,-0.15,1],[-18,-0.5,1],[-17.8,-0.85,1],[-17.5,0.23,1],[-17.8,0.03,1],[-17.3,1.3,1],[-17.3,0.5,1],[-17.2,0.38,1],[-17.2,-0.1,1],[-17,-0.3,1],[-17,-0.6,1],[-17.2,-0.85,1],[-17.2,-1.38,1],[-16.8,-1.03,1],[-16.8,0.13,1],[-16.5,-0.05,1],[-16.5,-0.45,1],[-16.3,-1.25,1],[-16,0.15,1],[-16,-0.2,1],[-16,-0.5,1],[-16,-2.35,1],[-15.8,0.35,1],[-15.8,0.52,1],[-15.5,-0.1,1],[-15.5,-0.35,1],[-15.5,0.2,1],[-15.5,-1.92,1],[-15.3,-1.05,1],[-15.3,-1.18,1],[-15.2,0.54,1],[-15,-0.15,1],[-15,-0.5,1],[-15,0.25,1],[-14.8,0.43,1],[-14.5,-0.2,1],[-14.5,-0.05,1],[-14.5,-0.55,1],[-14.3,-0.8,1],[-14.3,-0.98,1],[-14.5,-1.25,1],[-14,-0.3,1],[-14,-1.22,1],[-13.8,0.3,1],[-13.5,-0.2,1],[-13.5,0.1,1],[-13.2,-0.6,1],[-13.2,-1.0,1],[-13.3,-1.35,1],[-13,0.0,1],[-12.8,0.23,1],[-12.5,-0.15,1],[-12.5,-0.45,1],[-12.3,-0.6,1],[-12,-0.05,1],[-12,-0.3,1],[-11.7,-0.75,1],[-11.5,-0.97,1],[-11.3,-1.2,1],[-11.5,-0.2,1],[-11,-0.05,1],[-11,-0.4,1],[-10.7,0.42,1],[-10.5,-0.2,1],[-10.5,-0.5,1],[-10.3,-1.35,1],[-10,-1.55,1],[-10.5,-2.08,1],[-10,-2.2,1],[-10,-0.6,1],[-9.8,-0.35,1],[-9.5,-0.1,1],[-9.5,-0.7,1],[-9.5,-1.12,1],[-9.3,-1.65,1],[-9,-0.85,1],[-9,-0.42,1],[-8.5,-0.25,1],[-8.5,0.02,1],[-8.3,-0.45,1],[-8,0.13,1],[-7.5,-0.2,1],[-7.5,-0.4,1],[-7,-0.3,1],[-7,-0.55,1],[-7,-0.1,1],[-6.8,-0.85,1],[-6.3,0.56,1],[-5.5,-0.05,1],[-5.3,0.23,1],[-4.8,0.23,1],[-17.6,-0.2,1],[-16.6,-0.25,1],[-15.8,-0.5,1],[-14.8,-0.35,1],[-13.8,-0.45,1],[-12.8,-0.3,1],[-18.4,-0.2,1],[-17.5,-0.45,1]];

const grayPanels = [grayBroadleaf,grayNeedleleaf,grayC3,grayC4,grayShrubs,grayUrban,grayLakes,grayBareSoil,grayIce];
const colPanels = [colBroadleaf,colNeedleleaf,colC3,colC4,colShrubs,colUrban,colLakes,colBareSoil,colIce];

const NS = "http://www.w3.org/2000/svg";
const svg = document.getElementById("fig");
function el(tag, attrs, parent, text){
  const e = document.createElementNS(NS, tag);
  for (const k in attrs) e.setAttribute(k, attrs[k]);
  if (text !== undefined) e.textContent = text;
  parent.appendChild(e);
  return e;
}
function colorFor(v){
  for (let i=0;i<cbColors.length;i++){ if (v >= cbLevels[i+1]-1e-9) return cbColors[i]; }
  return cbColors[cbColors.length-1];
}
const bg = el("rect",{x:0,y:0,width:1373,height:1200,fill:"#fff"},svg);



const serif = '"Liberation Serif", serif';
const sans = '"Liberation Sans", sans-serif';
const R_MARK = 3.1, SW_MARK = 3.6;

panelTitles.forEach((title, k) => {
  const ox = (k%3)*470, oy = Math.floor(k/3)*410;
  const xs = t => ox + 309.5 + t*12.17;
  const ys = p => oy + 143.7 - p*63.2;
  const L = ox+47, R = ox+357, T = oy+28.5, B = oy+339;
  const g = el("g",{},svg);
  
  

  const tt = el("text",{x:ox+203,y:oy+13,"text-anchor":"middle","font-family":serif,"font-size":17},g,title);
  
  
  const ex = el("text",{x:ox+48,y:oy+26,"font-family":serif,"font-size":9.5},g,"Expt = xqfUa-xqfua");
  
  

  const pts = el("g",{},g);
  
  
  cloudPoints.concat(cloudFill).forEach(p => {
    const c = el("circle",{cx:xs(p[0]),cy:ys(p[1]),r:R_MARK,fill:"none",stroke:"#e2e2e2","stroke-width":SW_MARK},pts);
    
    
  });
  grayPanels[k].forEach(p => {
    const c = el("circle",{cx:xs(p[0]),cy:ys(p[1]),r:R_MARK,fill:"none",stroke:"#b4b4b4","stroke-width":SW_MARK},pts);
    
    
  });
  colPanels[k].forEach(p => {
    const c = el("circle",{cx:xs(p[0]),cy:ys(p[1]),r:R_MARK,fill:"none",stroke:colorFor(p[2]),"stroke-width":SW_MARK},pts);
    
    
  });

  const fr = el("rect",{x:L,y:T,width:R-L,height:B-T,fill:"none",stroke:"#000","stroke-width":2.6},g);
  
  
  let d = "";
  for (let t=-21;t<=3;t++){
    const x = xs(t), len = (t%4===0)?6:3;
    d += `M${x},${B}v${-len}M${x},${T}v${len}`;
  }
  for (let i=-15;i<=9;i++){
    const p = i*0.2, y = ys(p), len = (i%5===0)?6:3;
    d += `M${L},${y}h${len}M${R},${y}h${-len}`;
  }
  const tk = el("path",{d:d,stroke:"#000","stroke-width":1.6,fill:"none"},g);
  
  
  xTickValues.forEach((v,i) => {
    const t = el("text",{x:xs(v),y:oy+352,"text-anchor":"middle","font-family":serif,"font-size":9.5,"font-weight":"bold"},g,xTickLabels[i]);
    
    
  });
  yTickValues.forEach((v,i) => {
    const t = el("text",{x:ox+44,y:ys(v)+3,"text-anchor":"end","font-family":serif,"font-size":9.5,"font-weight":"bold"},g,yTickLabels[i]);
    
    
  });
  const xt = el("text",{x:ox+203,y:oy+376,"text-anchor":"middle","font-family":sans,"font-size":17.5},g,"Surface Air Temperature (in C)");
  
  
  const yt = el("text",{x:0,y:0,"text-anchor":"middle","font-family":sans,"font-size":17.5,transform:`translate(${ox+15},${oy+184}) rotate(-90)`},g,"Precipitation (in mm/day)");
  
  

  const cb = el("g",{},g);
  
  
  cbColors.forEach((c,i) => {
    const r = el("rect",{x:ox+375,y:oy+42+16*i,width:19,height:16.3,fill:c},cb);
    
    
  });
  cbLabels.forEach((s,i) => {
    const t = el("text",{x:ox+433,y:oy+37+16*i,"text-anchor":"end","dominant-baseline":"middle","font-family":sans,"font-size":14},cb,s);
    
    
  });
});
</script>
</body></html>
